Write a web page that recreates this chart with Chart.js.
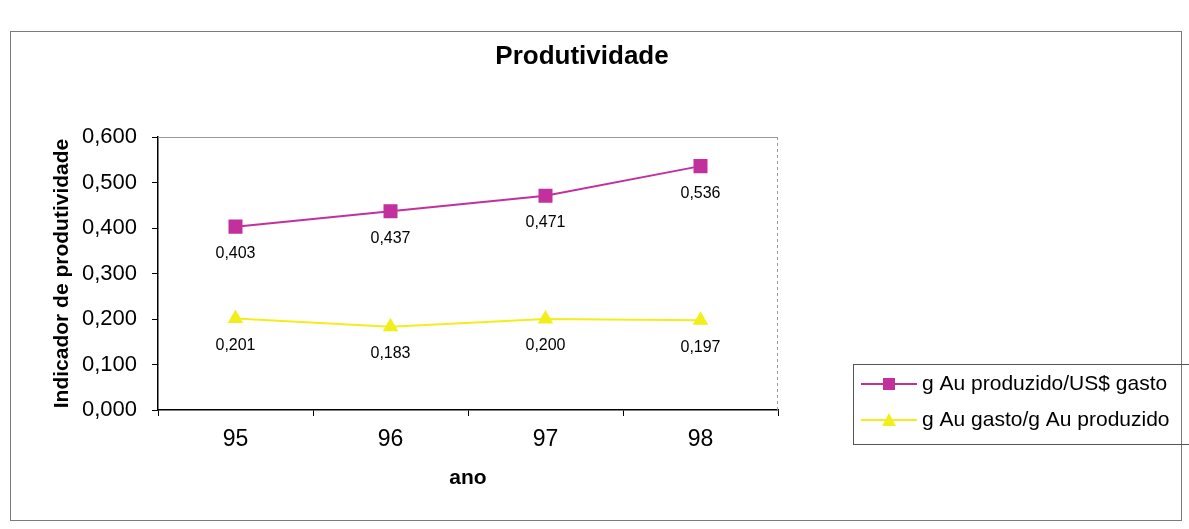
<!DOCTYPE html>
<html>
<head>
<meta charset="utf-8">
<script src="https://cdn.jsdelivr.net/npm/chart.js@4/dist/chart.umd.min.js"></script>
<style>
  html, body { margin: 0; padding: 0; background: #fff; }
  #wrap { width: 1189px; height: 529px; position: relative; }
</style>
</head>
<body>
<div id="wrap"><canvas id="chart" width="1189" height="529"></canvas></div>
<script>
const anos = ['95', '96', '97', '98'];
const auPorDolar = [0.403, 0.437, 0.471, 0.536];
const auGastoPorAu = [0.201, 0.183, 0.200, 0.197];
const yTicks = [0, 0.1, 0.2, 0.3, 0.4, 0.5, 0.6];
const titulo = 'Produtividade';

const magenta = '#c2309e';
const amarelo = '#f2ee1c';

function fmt(v) {
  return v.toFixed(3).replace('.', ',');
}

// moldura externa, título e borda da área do gráfico
const molduraPlugin = {
  id: 'moldura',
  beforeDraw(chart) {
    const ctx = chart.ctx;
    ctx.save();
    ctx.fillStyle = '#fff';
    ctx.fillRect(0, 0, chart.width, chart.height);
    ctx.strokeStyle = '#7a7a7a';
    ctx.lineWidth = 1;
    ctx.strokeRect(10.5, 31.5, 1171, 489);
    ctx.font = 'bold 26px "Liberation Sans", Arial, sans-serif';
    ctx.fillStyle = '#000';
    ctx.textAlign = 'center';
    ctx.textBaseline = 'middle';
    ctx.fillText(titulo, 582, 57);
    ctx.restore();
  },
  beforeDatasetsDraw(chart) {
    const { ctx, chartArea: a } = chart;
    ctx.save();
    ctx.strokeStyle = '#9a9a9a';
    ctx.lineWidth = 1;
    ctx.beginPath();
    ctx.moveTo(a.left, a.top + 0.5);
    ctx.lineTo(a.right, a.top + 0.5);
    ctx.stroke();
    ctx.setLineDash([3, 3]);
    ctx.beginPath();
    ctx.moveTo(a.right - 0.5, a.top);
    ctx.lineTo(a.right - 0.5, a.bottom);
    ctx.stroke();
    ctx.restore();
  }
};

// rótulos de valor abaixo dos pontos
const rotulosPlugin = {
  id: 'rotulos',
  afterDatasetsDraw(chart) {
    const ctx = chart.ctx;
    ctx.save();
    ctx.font = '16px "Liberation Sans", Arial, sans-serif';
    ctx.fillStyle = '#000';
    ctx.textAlign = 'center';
    ctx.textBaseline = 'middle';
    chart.data.datasets.forEach((ds, i) => {
      chart.getDatasetMeta(i).data.forEach((pt, j) => {
        ctx.fillText(fmt(ds.data[j]), pt.x, pt.y + 27);
      });
    });
    ctx.restore();
  }
};

// legenda com caixa, à direita
const legendaPlugin = {
  id: 'legenda',
  afterDraw(chart) {
    const ctx = chart.ctx;
    const x0 = 853, y0 = 364, w = 340, h = 80;
    ctx.save();
    ctx.strokeStyle = '#555';
    ctx.lineWidth = 1;
    ctx.strokeRect(x0 + 0.5, y0 + 0.5, w, h);
    ctx.font = '21px "Liberation Sans", Arial, sans-serif';
    ctx.textBaseline = 'middle';
    ctx.fillStyle = '#000';
    chart.data.datasets.forEach((ds, i) => {
      const y = y0 + 20 + i * 36;
      ctx.strokeStyle = ds.borderColor;
      ctx.lineWidth = 2;
      ctx.beginPath();
      ctx.moveTo(x0 + 8, y);
      ctx.lineTo(x0 + 64, y);
      ctx.stroke();
      ctx.fillStyle = ds.pointBackgroundColor;
      const cx = x0 + 36;
      if (ds.pointStyle === 'rect') {
        ctx.fillRect(cx - 6, y - 6, 12, 12);
      } else {
        ctx.beginPath();
        ctx.moveTo(cx, y - 7);
        ctx.lineTo(cx + 7, y + 6);
        ctx.lineTo(cx - 7, y + 6);
        ctx.closePath();
        ctx.fill();
      }
      ctx.fillStyle = '#000';
      ctx.fillText(ds.label, x0 + 69, y);
    });
    ctx.restore();
  }
};

Chart.defaults.font.family = '"Liberation Sans", Arial, sans-serif';
Chart.defaults.color = '#000';

new Chart(document.getElementById('chart').getContext('2d'), {
  type: 'line',
  data: {
    labels: anos,
    datasets: [
      {
        label: 'g Au produzido/US$ gasto',
        data: auPorDolar,
        borderColor: magenta,
        backgroundColor: magenta,
        pointBackgroundColor: magenta,
        pointBorderColor: magenta,
        pointStyle: 'rect',
        pointRadius: 8.5,
        borderWidth: 2,
        tension: 0,
        fill: false
      },
      {
        label: 'g Au gasto/g Au produzido',
        data: auGastoPorAu,
        borderColor: amarelo,
        backgroundColor: amarelo,
        pointBackgroundColor: amarelo,
        pointBorderColor: amarelo,
        pointStyle: 'triangle',
        pointRadius: 7,
        borderWidth: 2,
        tension: 0,
        fill: false
      }
    ]
  },
  options: {
    responsive: false,
    animation: false,
    layout: { padding: { top: 137, left: 38, right: 411, bottom: 30 } },
    scales: {
      x: {
        offset: true,
        grid: { offset: true, drawOnChartArea: false, color: '#000', tickLength: 6 },
        border: { color: '#000', width: 1.5 },
        ticks: { padding: 10, font: { size: 23 } },
        title: { display: true, text: 'ano', font: { size: 21, weight: 'bold' }, padding: { top: 0, bottom: 8 } },
        afterFit(s) { s.height = 89; }
      },
      y: {
        min: 0,
        max: 0.6,
        afterBuildTicks(s) { s.ticks = yTicks.map(v => ({ value: v })); },
        grid: { drawOnChartArea: false, color: '#000', tickLength: 6 },
        border: { color: '#000', width: 1.5 },
        ticks: { padding: 15, font: { size: 22 }, callback: v => fmt(v) },
        title: { display: true, text: 'Indicador de produtividade', font: { size: 21, weight: 'bold' }, padding: { top: 12, bottom: 0 } },
        afterFit(s) { s.width = 120; }
      }
    },
    plugins: {
      legend: { display: false },
      tooltip: { enabled: false },
      title: { display: false }
    }
  },
  plugins: [molduraPlugin, rotulosPlugin, legendaPlugin]
});
</script>
</body>
</html>
